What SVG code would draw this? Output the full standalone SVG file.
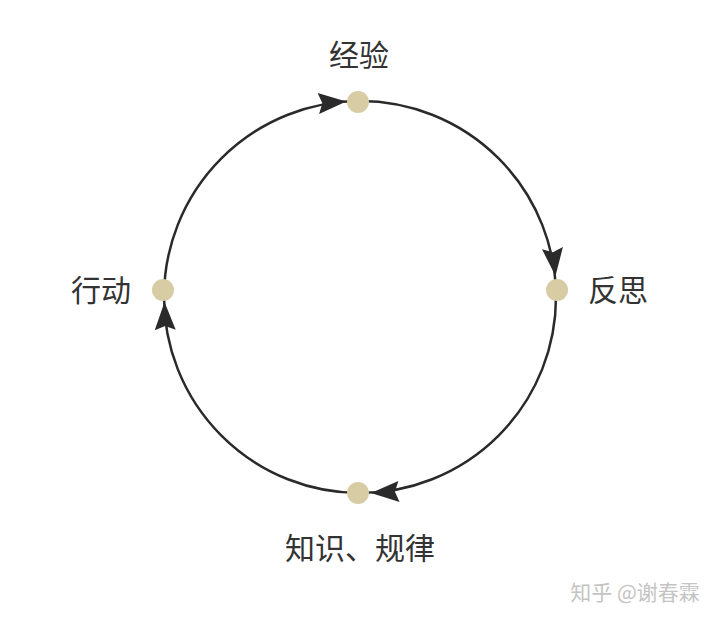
<svg xmlns="http://www.w3.org/2000/svg" width="720" height="621" viewBox="0 0 720 621">
<style>
.lbl{font-family:"Noto Sans CJK SC","Noto Sans",sans-serif;font-size:30px;fill:#333;}
.dot{fill:#d8cca4;}
.ah{fill:#2a2a2a;}
.wm{font-family:"Noto Sans CJK SC","Noto Sans",sans-serif;font-size:21px;fill:#c4c4c4;}
</style>
<defs>
<path id="arr" d="M0,0 L-28,-10.5 L-24,0 L-28,10.5 Z"/>
</defs>
<rect width="720" height="621" fill="#ffffff"/>
<g id="connectors">
<circle cx="360" cy="297" r="196" fill="none" stroke="#2a2a2a" stroke-width="2.5"/>
<use href="#arr" class="ah" transform="translate(346.3,101.5) rotate(-4)"/>
<use href="#arr" class="ah" transform="translate(555.5,276) rotate(83.8)"/>
<use href="#arr" class="ah" transform="translate(371,493) rotate(176.8)"/>
<use href="#arr" class="ah" transform="translate(164.5,302) rotate(268.5)"/>
</g>
<g id="node-jingyan">
<circle class="dot" cx="358" cy="102" r="11"/>
<text class="lbl" x="359" y="66" text-anchor="middle">经验</text>
</g>
<g id="node-fansi">
<circle class="dot" cx="557" cy="290" r="11"/>
<text class="lbl" x="588" y="301">反思</text>
</g>
<g id="node-xingdong">
<circle class="dot" cx="163" cy="290" r="11"/>
<text class="lbl" x="131" y="301" text-anchor="end">行动</text>
</g>
<g id="node-zhishi">
<circle class="dot" cx="358" cy="493" r="11"/>
<text class="lbl" x="360" y="559" text-anchor="middle">知识、规律</text>
</g>
<text class="wm" x="635" y="600" text-anchor="middle">知乎 @谢春霖</text>
</svg>
